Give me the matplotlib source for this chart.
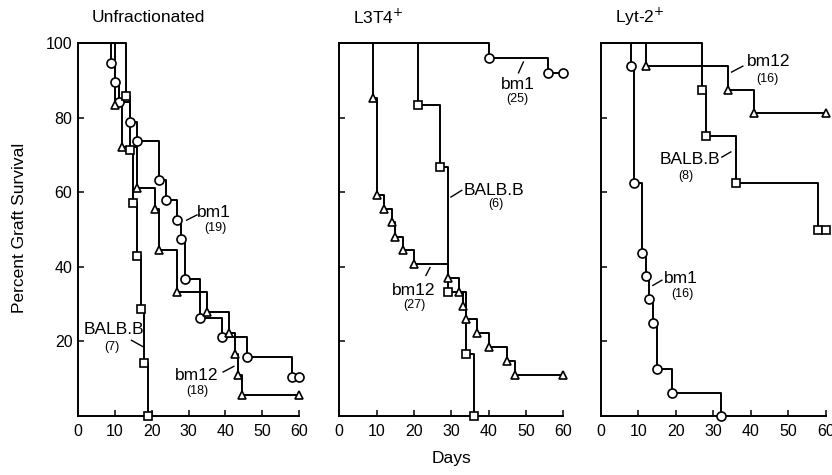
import matplotlib
matplotlib.use("Agg")
import matplotlib.pyplot as plt

plt.rcParams['font.family'] = ['Liberation Sans', 'DejaVu Sans']

# Survival data (day, percent surviving)
# Unfractionated
unf_bm1_days = [0, 9, 10, 11, 14, 16, 22, 24, 27, 28, 29, 33, 39, 46, 58, 60]
unf_bm1_surv = [100, 94.7, 89.5, 84.2, 78.9, 73.7, 63.2, 57.9, 52.6, 47.4, 36.8, 26.3, 21.1, 15.8, 10.5, 10.5]
unf_bm12_days = [0, 10, 12, 16, 21, 22, 27, 35, 41, 42.5, 43.5, 44.5, 60]
unf_bm12_surv = [100, 83.3, 72.2, 61.1, 55.6, 44.4, 33.3, 27.8, 22.2, 16.7, 11.1, 5.6, 5.6]
unf_balb_days = [0, 13, 14, 15, 16, 17, 18, 19]
unf_balb_surv = [100, 85.7, 71.4, 57.1, 42.9, 28.6, 14.3, 0]

# L3T4+
l3_bm1_days = [0, 40, 56, 60]
l3_bm1_surv = [100, 96, 92, 92]
l3_bm12_days = [0, 9, 10, 12, 14, 15, 17, 20, 29, 32, 33, 34, 37, 40, 45, 47, 60]
l3_bm12_surv = [100, 85.2, 59.3, 55.6, 51.9, 48.1, 44.4, 40.7, 37.0, 33.3, 29.6, 25.9, 22.2, 18.5, 14.8, 11.1, 11.1]
l3_balb_days = [0, 21, 27, 29, 34, 36]
l3_balb_surv = [100, 83.3, 66.7, 33.3, 16.7, 0]

# Lyt-2+
ly_bm1_days = [0, 8, 9, 11, 12, 13, 14, 15, 19, 32]
ly_bm1_surv = [100, 93.75, 62.5, 43.75, 37.5, 31.25, 25, 12.5, 6.25, 0]
ly_bm12_days = [0, 12, 34, 41, 60]
ly_bm12_surv = [100, 93.75, 87.5, 81.25, 81.25]
ly_balb_days = [0, 27, 28, 36, 58, 60]
ly_balb_surv = [100, 87.5, 75, 62.5, 50, 50]

titles = ["Unfractionated", "L3T4$^{+}$", "Lyt-2$^{+}$"]

fig = plt.figure(figsize=(8.32, 4.75), dpi=100)
lefts = [78 / 832, 339.3 / 832, 600.7 / 832]
widths = [221 / 832, 224 / 832, 225 / 832]
bottom = 1 - 416 / 475
height = (416 - 43) / 475

panels = [
    [(unf_bm1_days, unf_bm1_surv, 'o'), (unf_bm12_days, unf_bm12_surv, '^'), (unf_balb_days, unf_balb_surv, 's')],
    [(l3_bm1_days, l3_bm1_surv, 'o'), (l3_bm12_days, l3_bm12_surv, '^'), (l3_balb_days, l3_balb_surv, 's')],
    [(ly_bm1_days, ly_bm1_surv, 'o'), (ly_bm12_days, ly_bm12_surv, '^'), (ly_balb_days, ly_balb_surv, 's')],
]
msizes = {'o': 6.5, '^': 6.0, 's': 6.2}

# label, (x, y) of name, (x, y) of n, leader line
notes = [
    [("bm1", (37, 54.6), "(19)", (37.3, 50.3), (29.5, 52.5), (32.3, 53.9)),
     ("BALB.B", (9.7, 23.2), "(7)", (9.2, 18.6), (14.5, 20.3), (17.8, 18.5)),
     ("bm12", (32.3, 10.9), "(18)", (32.3, 6.6), (39.4, 11.8), (42.3, 13.3))],
    [("bm1", (47.8, 88.9), "(25)", (47.8, 85.0), (48.0, 92.0), (49.3, 94.9)),
     ("BALB.B", (41.4, 60.5), "(6)", (42.0, 56.8), (29.9, 58.7), (32.8, 60.5)),
     ("bm12", (19.8, 33.7), "(27)", (20.0, 29.7), (23.2, 37.7), (24.3, 39.8))],
    [("bm12", (44.7, 95.0), "(16)", (44.5, 90.4), (34.9, 92.2), (37.9, 93.8)),
     ("BALB.B", (23.8, 68.8), "(8)", (22.6, 64.3), (32.3, 69.4), (34.7, 70.8)),
     ("bm1", (21.5, 36.9), "(16)", (21.8, 32.6), (13.9, 35.0), (16.3, 36.4))],
]

for i in range(3):
    ax = fig.add_axes([lefts[i], bottom, widths[i], height])
    for days, surv, m in panels[i]:
        ax.step(days, surv, where='post', color='black', lw=1.4, clip_on=False)
        ax.plot(days[1:], surv[1:], m, ms=msizes[m], mfc='white', mec='black',
                mew=1.2, ls='none', clip_on=False, zorder=3)
    for name, p1, n, p2, l1, l2 in notes[i]:
        ax.text(p1[0], p1[1], name, fontsize=12.5, ha='center', va='center')
        ax.text(p2[0], p2[1], n, fontsize=9, ha='center', va='center')
        ax.plot([l1[0], l2[0]], [l1[1], l2[1]], color='black', lw=1.0)
    ax.set_xlim(0, 60)
    ax.set_ylim(0, 100)
    ax.set_xticks(range(0, 61, 10))
    ax.set_yticks([20, 40, 60, 80, 100])
    if i > 0:
        ax.set_yticklabels([])
    ax.spines['top'].set_visible(False)
    ax.spines['right'].set_visible(False)
    ax.spines['left'].set_linewidth(1.4)
    ax.spines['bottom'].set_linewidth(1.4)
    ax.tick_params(direction='in', length=4, width=1.1, labelsize=11.5)
    ax.tick_params(axis='x', pad=6)
    ax.tick_params(axis='y', pad=4)
    fig.text(lefts[i] + 14 / 832, 1 - 17 / 475, titles[i], fontsize=12.5,
             ha='left', va='center')

fig.text(20 / 832, 1 - 228 / 475, "Percent Graft Survival", fontsize=12.5,
         rotation=90, ha='center', va='center')
fig.text(452 / 832, 1 - 458 / 475, "Days", fontsize=12.5, ha='center', va='center')

fig.savefig("out.png", dpi=100)
